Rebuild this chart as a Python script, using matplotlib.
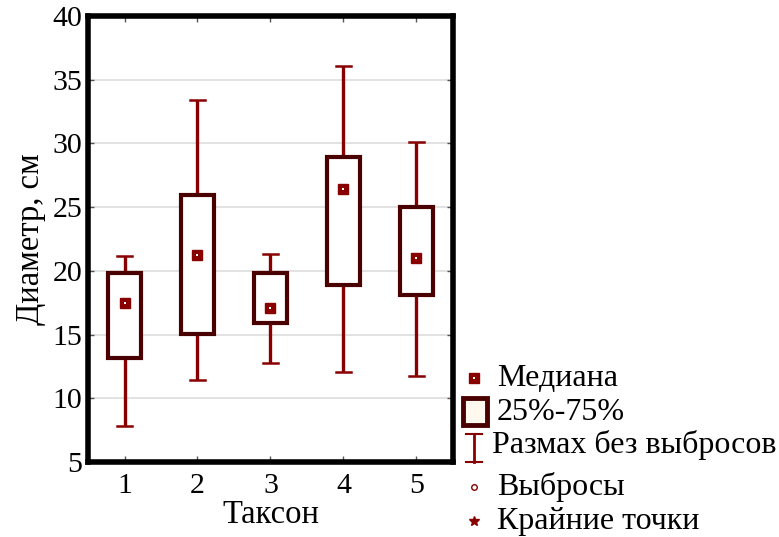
import matplotlib
matplotlib.use("Agg")
import matplotlib.pyplot as plt
from matplotlib.patches import Rectangle
from matplotlib.lines import Line2D

taxa = [1, 2, 3, 4, 5]
q1 = [13.15, 15.05, 15.9, 18.9, 18.1]
q3 = [19.8, 25.95, 19.8, 28.9, 25.0]
median = [17.45, 21.25, 17.05, 26.4, 21.0]
whisk_lo = [7.8, 11.4, 12.8, 12.1, 11.75]
whisk_hi = [21.2, 33.4, 21.3, 36.1, 30.1]
yticks = [5, 10, 15, 20, 25, 30, 35, 40]
legend_labels = ["Медиана", "25%-75%", "Размах без выбросов", "Выбросы", "Крайние точки"]

plt.rcParams['font.family'] = ['Liberation Serif', 'DejaVu Serif']
BOX = '#4a0000'
WH = '#880000'

fig = plt.figure(figsize=(7.79, 5.37), dpi=100)
ax = fig.add_axes([88/779, 1-462/537, 365/779, 446/537])
ax.set_xlim(0.5, 5.5)
ax.set_ylim(5, 40)

bw = 0.44
cw = 0.2
for i, x in enumerate(taxa):
    ax.plot([x, x], [whisk_lo[i], q1[i]], color=WH, lw=2.4, zorder=2, solid_capstyle='butt')
    ax.plot([x, x], [q3[i], whisk_hi[i]], color=WH, lw=2.4, zorder=2, solid_capstyle='butt')
    ax.plot([x - cw/2, x + cw/2], [whisk_lo[i]]*2, color=WH, lw=1.8, zorder=2)
    ax.plot([x - cw/2, x + cw/2], [whisk_hi[i]]*2, color=WH, lw=1.8, zorder=2)
    ax.add_patch(Rectangle((x - bw/2, q1[i]), bw, q3[i]-q1[i], fc='white', ec=BOX, lw=3.0, zorder=3))
    ax.plot([x], [median[i]], marker='s', ms=7.5, mfc=WH, mec=WH, mew=1, zorder=4)
    ax.plot([x], [median[i]], marker='s', ms=1.6, mfc='white', mec='white', mew=0, zorder=5)

ax.set_yticks(yticks)
ax.set_xticks(taxa)
ax.yaxis.grid(True, color='#dddddd', lw=1.2)
ax.set_axisbelow(True)
ax.tick_params(direction='in', length=4, width=1, labelsize=21.5, top=True, right=True, color='#555555')
ax.tick_params(axis='y', pad=4)
ax.tick_params(axis='x', pad=8)
for s in ax.spines.values():
    s.set_linewidth(4)
    s.set_color('black')
ax.set_ylabel("Диаметр, см", fontsize=23.5, labelpad=5)
ax.set_xlabel("Таксон", fontsize=23.5, labelpad=0)

# legend (drawn manually in figure coords)
def fx(px): return px/779
def fy(py): return 1 - py/537
ys = [378, 412, 445, 487, 521]
tx = 497
for lab, y in zip(legend_labels, ys):
    fig.text(fx(tx if lab != legend_labels[2] else 492), fy(y), lab, fontsize=23, va='center', ha='left')
# median symbol
fig.add_artist(Line2D([fx(474)], [fy(378)], marker='s', ms=6.5, mfc=WH, mec=WH, mew=1))
fig.add_artist(Line2D([fx(474)], [fy(378)], marker='s', ms=1.6, mfc='white', mec='white', mew=0))
# box symbol
fig.add_artist(Rectangle((fx(463), fy(425)), fx(24), 27/537, fc='#fff8ee', ec=BOX, lw=3.5))
# whisker symbol
fig.add_artist(Line2D([fx(474), fx(474)], [fy(434), fy(462)], color=WH, lw=2))
fig.add_artist(Line2D([fx(466), fx(482)], [fy(434), fy(434)], color=WH, lw=1.5))
fig.add_artist(Line2D([fx(466), fx(482)], [fy(462), fy(462)], color=WH, lw=1.5))
# outlier symbol
fig.add_artist(Line2D([fx(474)], [fy(487)], marker='o', ms=4, mfc='white', mec=WH, mew=1))
# extreme symbol
fig.add_artist(Line2D([fx(474)], [fy(521)], marker='*', ms=7, mfc=WH, mec=WH, mew=1))

fig.savefig("out.png", dpi=100)
